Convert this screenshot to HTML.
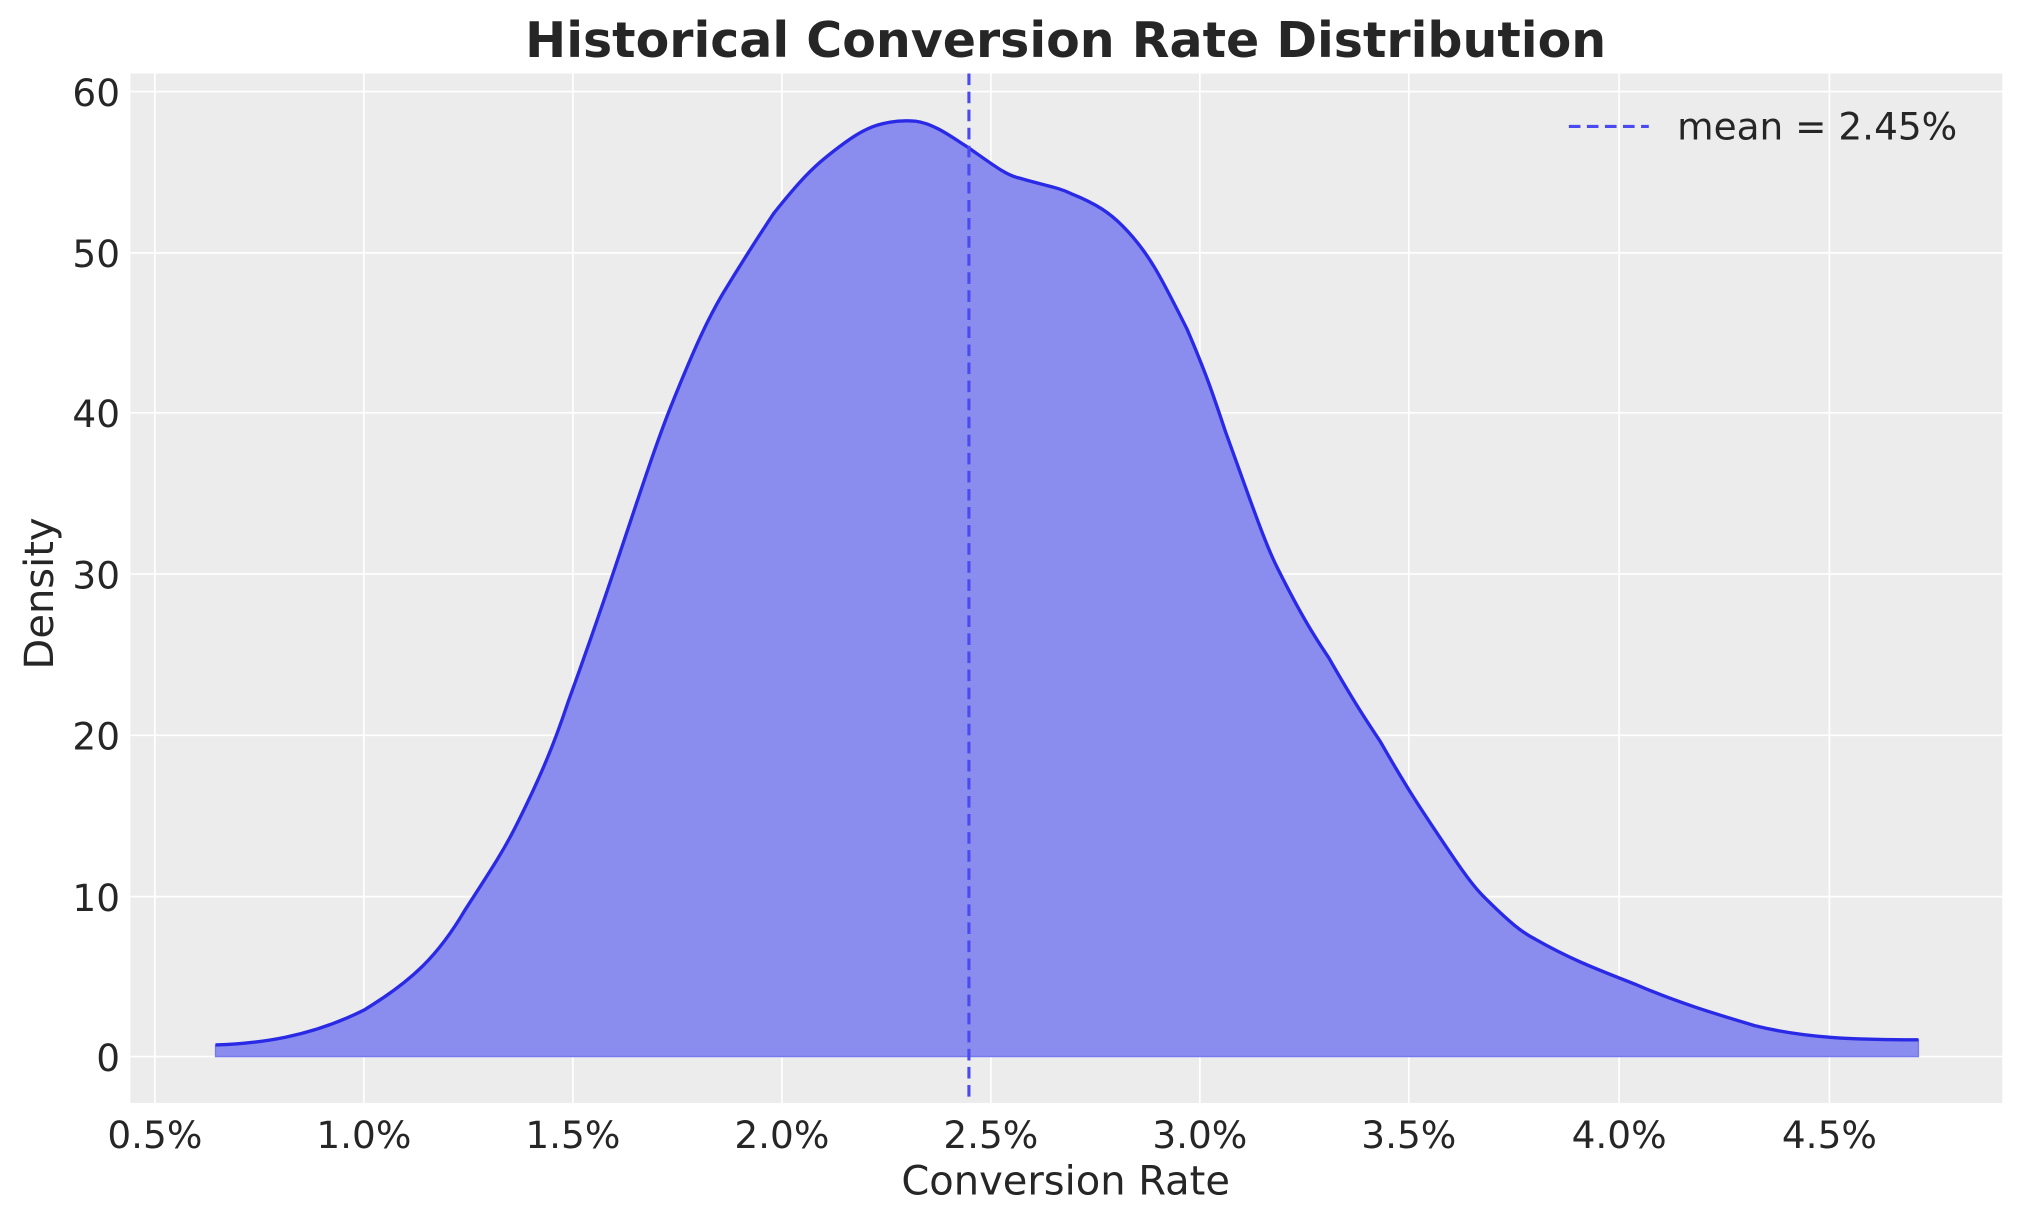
<!DOCTYPE html><html><head><style>body{margin:0;background:#fff}svg{display:block}text{font-family:"DejaVu Sans","Liberation Sans",sans-serif;fill:#262626}</style></head><body>
<svg width="2023" height="1223" viewBox="0 0 1568 948" xmlns="http://www.w3.org/2000/svg">
<rect x="101" y="57" width="1451" height="798" fill="#ececec"/>
<g stroke="#fff" stroke-width="1.3">
<line x1="120" y1="57" x2="120" y2="855"/><line x1="282" y1="57" x2="282" y2="855"/><line x1="444" y1="57" x2="444" y2="855"/><line x1="606" y1="57" x2="606" y2="855"/><line x1="768" y1="57" x2="768" y2="855"/><line x1="930" y1="57" x2="930" y2="855"/><line x1="1092" y1="57" x2="1092" y2="855"/><line x1="1255" y1="57" x2="1255" y2="855"/><line x1="1418" y1="57" x2="1418" y2="855"/>
<line x1="101" y1="819" x2="1552" y2="819"/><line x1="101" y1="695" x2="1552" y2="695"/><line x1="101" y1="570" x2="1552" y2="570"/><line x1="101" y1="445" x2="1552" y2="445"/><line x1="101" y1="320" x2="1552" y2="320"/><line x1="101" y1="196" x2="1552" y2="196"/><line x1="101" y1="71" x2="1552" y2="71"/>
</g>
<path d="M167,810 C200,809 240,804 282,783 C320,760 340,740 360,706 C380,675 390,660 400,640 C420,600 430,575 440,545 C460,490 470,460 480,430 C500,370 510,340 520,315 C540,265 550,245 560,228 C580,195 590,180 600,165 C620,140 630,130 640,122 C660,106 670,100 680,97 C690,94 700,93 710,94 C725,96 740,108 750,114 C770,128 780,136 790,138 C810,144 820,145 830,150 C850,158 860,165 870,175 C890,195 900,215 920,255 C935,290 940,305 950,335 C970,390 980,420 990,440 C1010,480 1020,495 1030,510 C1050,545 1060,560 1070,575 C1090,610 1100,625 1110,640 C1130,670 1140,685 1150,695 C1170,715 1180,723 1190,728 C1220,745 1240,752 1270,764 C1300,777 1330,786 1360,795 C1400,805 1440,806 1487,806 L1487,819 L167,819 Z" fill="#8a8ded" stroke="#7579ee" stroke-width="1"/>
<path d="M167,810 C200,809 240,804 282,783 C320,760 340,740 360,706 C380,675 390,660 400,640 C420,600 430,575 440,545 C460,490 470,460 480,430 C500,370 510,340 520,315 C540,265 550,245 560,228 C580,195 590,180 600,165 C620,140 630,130 640,122 C660,106 670,100 680,97 C690,94 700,93 710,94 C725,96 740,108 750,114 C770,128 780,136 790,138 C810,144 820,145 830,150 C850,158 860,165 870,175 C890,195 900,215 920,255 C935,290 940,305 950,335 C970,390 980,420 990,440 C1010,480 1020,495 1030,510 C1050,545 1060,560 1070,575 C1090,610 1100,625 1110,640 C1130,670 1140,685 1150,695 C1170,715 1180,723 1190,728 C1220,745 1240,752 1270,764 C1300,777 1330,786 1360,795 C1400,805 1440,806 1487,806" fill="none" stroke="#2a2ae6" stroke-width="2.6"/>
<line x1="751" y1="57" x2="751" y2="855" stroke="#4a4af0" stroke-width="2.4" stroke-dasharray="9,5"/>
<line x1="1216" y1="98" x2="1278" y2="98" stroke="#4a4af0" stroke-width="2.4" stroke-dasharray="9,5"/>
<text x="1300" y="108" font-size="29">mean = 2.45%</text>
<g font-size="29" text-anchor="middle">
<text x="120" y="890">0.5%</text><text x="282" y="890">1.0%</text><text x="444" y="890">1.5%</text><text x="606" y="890">2.0%</text><text x="768" y="890">2.5%</text><text x="930" y="890">3.0%</text><text x="1092" y="890">3.5%</text><text x="1255" y="890">4.0%</text><text x="1418" y="890">4.5%</text>
</g>
<g font-size="29" text-anchor="end">
<text x="93" y="830">0</text><text x="93" y="706">10</text><text x="93" y="581">20</text><text x="93" y="456">30</text><text x="93" y="331">40</text><text x="93" y="207">50</text><text x="93" y="82">60</text>
</g>
<text x="826" y="926" font-size="31" text-anchor="middle">Conversion Rate</text>
<text transform="translate(41,460) rotate(-90)" font-size="31" text-anchor="middle">Density</text>
<text x="826" y="44" font-size="38" font-weight="bold" text-anchor="middle">Historical Conversion Rate Distribution</text>
</svg></body></html>
